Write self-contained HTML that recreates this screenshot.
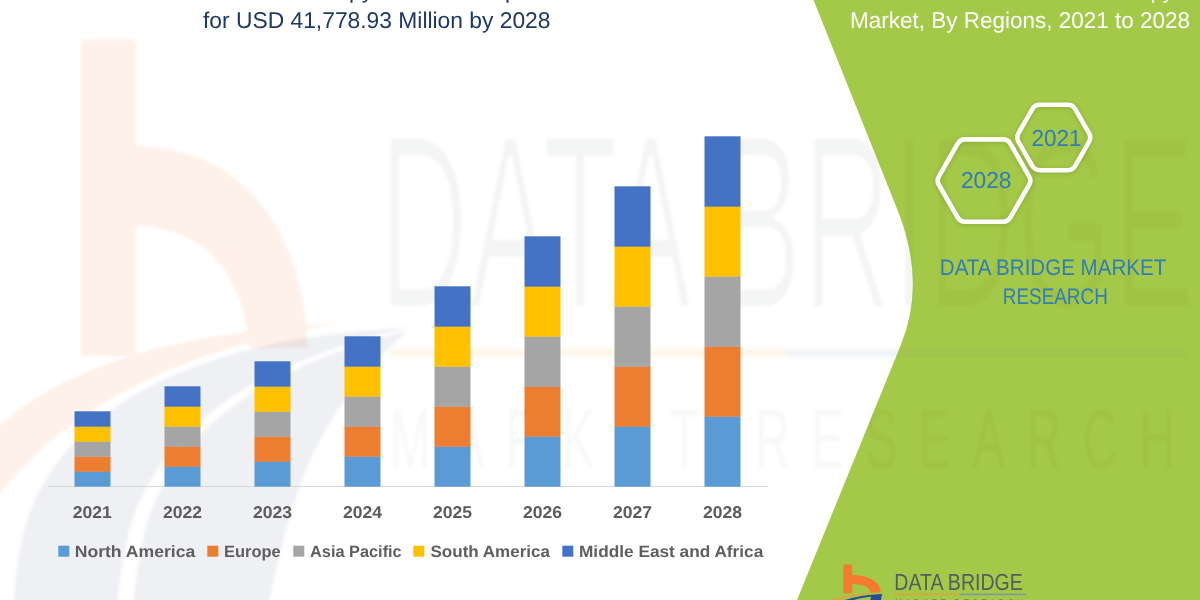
<!DOCTYPE html>
<html lang="en">
<head>
<meta charset="utf-8">
<title>Market, By Regions, 2021 to 2028</title>
<style>
  html, body { margin: 0; padding: 0; background: #ffffff; }
  body { width: 1200px; height: 600px; overflow: hidden; }
  svg { display: block; }
  text { font-family: "Liberation Sans", sans-serif; text-rendering: geometricPrecision; }
  .ax { font-weight: bold; font-size: 17.1px; fill: #5c5c5c; text-anchor: middle; }
  .lg { font-weight: bold; font-size: 16.4px; fill: #5e5e5e; }
  .ttl { font-size: 22.8px; fill: #1f3864; }
  .wt { font-size: 22.8px; fill: #ffffff; }
  .bl { font-size: 22.6px; fill: #2f7db8; }
  .hx { font-size: 23.2px; fill: #2f7db8; }
</style>
</head>
<body>
<svg width="1200" height="600" viewBox="0 0 1200 600">
  <defs>
    <filter id="wblur" x="-5%" y="-5%" width="110%" height="110%"><feGaussianBlur stdDeviation="1.6"/></filter>
    <filter id="hsh" x="-20%" y="-20%" width="140%" height="140%"><feGaussianBlur stdDeviation="2"/></filter>
    <!-- company logo pieces, drawn in watermark (large) coordinates; fills inherited from <use> -->
    <g id="lgB">
      <path d="M81,39.5 H136 V146 C232,148 302,215 308,348 H250 C241,264 198,228 136,226 V356 H81 Z"/>
      <path d="M-40,470 C20,380 150,332 338,324 C190,348 70,400 -5,500 Z"/>
    </g>
    <g id="lgBlue">
      <path d="M408,328 C250,334 90,380 35,500 C8,560 8,650 30,730 L112,730 C112,650 116,590 127,540 C140,480 185,420 260,380 C310,355 360,338 408,328 Z"/>
      <path d="M408,331 C360,342 315,358 268,384 C195,424 155,482 143,540 C132,590 128,650 128,730 L250,730 C258,640 280,540 302,480 C320,430 360,370 408,331 Z"/>
    </g>
    <g id="lgTxt">
      <text transform="translate(379,307) scale(6.08,10.56)" font-size="23.3" textLength="134.3" lengthAdjust="spacingAndGlyphs">DATA BRIDGE</text>
    </g>
    <g id="lgTxt2">
      <text transform="translate(390,468) scale(6.08,10.56)" font-size="8" textLength="129" lengthAdjust="spacing">MARKET RESEARCH</text>
    </g>
    <g id="lgLine">
      <rect x="390" y="349" width="396" height="8" fill="#e9a23b"/>
      <rect x="786" y="349" width="401" height="8" fill="#6f8fb0"/>
    </g>
    <filter id="thin" x="-2%" y="-2%" width="104%" height="104%"><feMorphology operator="erode" radius="1.8 0.9"/><feGaussianBlur stdDeviation="1.4"/></filter>
    <clipPath id="greenClip"><path d="M813.5,0 L897.5,210 Q926.4,282.2 900.8,345 L797,600 H1200 V0 Z"/></clipPath>
  </defs>

  <rect width="1200" height="600" fill="#ffffff"/>

  <!-- watermark on the white area -->
  <g id="wm">
    <g filter="url(#wblur)">
      <use href="#lgB" fill="#f47b30" opacity="0.105"/>
      <use href="#lgBlue" fill="#566b95" opacity="0.10"/>
      <use href="#lgLine" opacity="0.10"/>
    </g>
    <use href="#lgTxt" fill="#555b5e" opacity="0.062" filter="url(#thin)"/>
    <use href="#lgTxt2" fill="#555b5e" opacity="0.038" filter="url(#wblur)"/>
  </g>

  <!-- green panel -->
  <path d="M813.5,0 L897.5,210 Q926.4,282.2 900.8,345 L797,600 H1200 V0 Z" fill="#a4c848"/>

  <!-- fainter watermark showing through the green panel -->
  <g clip-path="url(#greenClip)" opacity="0.55">
    <use href="#lgLine" opacity="0.10" filter="url(#wblur)"/>
    <use href="#lgTxt" fill="#4a5a30" opacity="0.068" filter="url(#thin)"/>
    <use href="#lgTxt2" fill="#4a5a30" opacity="0.07" filter="url(#wblur)"/>
  </g>

  <!-- cropped title lines -->
  <text class="ttl" y="-2.3"><tspan x="349" text-anchor="end" textLength="278" lengthAdjust="spacingAndGlyphs">Global Cell and Gene Thera</tspan><tspan x="349" textLength="156" lengthAdjust="spacingAndGlyphs">py Market is Ex</tspan><tspan x="505" textLength="180" lengthAdjust="spacingAndGlyphs">pected to Account</tspan></text>
  <text class="ttl" x="203" y="28" textLength="347.5" lengthAdjust="spacingAndGlyphs">for USD 41,778.93 Million by 2028</text>

  <text class="wt" x="874" y="-2.3" textLength="300" lengthAdjust="spacingAndGlyphs">Global Cell and Gene Therapy</text>
  <text class="wt" x="850" y="28" textLength="340" lengthAdjust="spacingAndGlyphs">Market, By Regions, 2021 to 2028</text>

  <!-- chart -->
  <g shape-rendering="crispEdges">
    <rect x="48" y="486" width="720" height="1" fill="#d9d9d9"/>
  </g>
  <g id="bars">
    <rect x="74.5" y="471.3" width="36" height="15.4" fill="#5b9bd5"/>
    <rect x="74.5" y="456.3" width="36" height="15.4" fill="#ed7d31"/>
    <rect x="74.5" y="441.3" width="36" height="15.4" fill="#a5a5a5"/>
    <rect x="74.5" y="426.3" width="36" height="15.4" fill="#ffc000"/>
    <rect x="74.5" y="411.3" width="36" height="15.4" fill="#4472c4"/>
    <rect x="164.5" y="466.3" width="36" height="20.4" fill="#5b9bd5"/>
    <rect x="164.5" y="446.3" width="36" height="20.4" fill="#ed7d31"/>
    <rect x="164.5" y="426.3" width="36" height="20.4" fill="#a5a5a5"/>
    <rect x="164.5" y="406.3" width="36" height="20.4" fill="#ffc000"/>
    <rect x="164.5" y="386.3" width="36" height="20.4" fill="#4472c4"/>
    <rect x="254.5" y="461.3" width="36" height="25.4" fill="#5b9bd5"/>
    <rect x="254.5" y="436.3" width="36" height="25.4" fill="#ed7d31"/>
    <rect x="254.5" y="411.3" width="36" height="25.4" fill="#a5a5a5"/>
    <rect x="254.5" y="386.3" width="36" height="25.4" fill="#ffc000"/>
    <rect x="254.5" y="361.3" width="36" height="25.4" fill="#4472c4"/>
    <rect x="344.5" y="456.3" width="36" height="30.4" fill="#5b9bd5"/>
    <rect x="344.5" y="426.3" width="36" height="30.4" fill="#ed7d31"/>
    <rect x="344.5" y="396.3" width="36" height="30.4" fill="#a5a5a5"/>
    <rect x="344.5" y="366.3" width="36" height="30.4" fill="#ffc000"/>
    <rect x="344.5" y="336.3" width="36" height="30.4" fill="#4472c4"/>
    <rect x="434.5" y="446.3" width="36" height="40.4" fill="#5b9bd5"/>
    <rect x="434.5" y="406.3" width="36" height="40.4" fill="#ed7d31"/>
    <rect x="434.5" y="366.3" width="36" height="40.4" fill="#a5a5a5"/>
    <rect x="434.5" y="326.3" width="36" height="40.4" fill="#ffc000"/>
    <rect x="434.5" y="286.3" width="36" height="40.4" fill="#4472c4"/>
    <rect x="524.5" y="436.3" width="36" height="50.4" fill="#5b9bd5"/>
    <rect x="524.5" y="386.3" width="36" height="50.4" fill="#ed7d31"/>
    <rect x="524.5" y="336.3" width="36" height="50.4" fill="#a5a5a5"/>
    <rect x="524.5" y="286.3" width="36" height="50.4" fill="#ffc000"/>
    <rect x="524.5" y="236.3" width="36" height="50.4" fill="#4472c4"/>
    <rect x="614.5" y="426.3" width="36" height="60.4" fill="#5b9bd5"/>
    <rect x="614.5" y="366.3" width="36" height="60.4" fill="#ed7d31"/>
    <rect x="614.5" y="306.3" width="36" height="60.4" fill="#a5a5a5"/>
    <rect x="614.5" y="246.3" width="36" height="60.4" fill="#ffc000"/>
    <rect x="614.5" y="186.3" width="36" height="60.4" fill="#4472c4"/>
    <rect x="704.5" y="416.3" width="36" height="70.4" fill="#5b9bd5"/>
    <rect x="704.5" y="346.3" width="36" height="70.4" fill="#ed7d31"/>
    <rect x="704.5" y="276.3" width="36" height="70.4" fill="#a5a5a5"/>
    <rect x="704.5" y="206.3" width="36" height="70.4" fill="#ffc000"/>
    <rect x="704.5" y="136.3" width="36" height="70.4" fill="#4472c4"/>
  </g>

  <g class="ax">
    <text x="92.2" y="518.3" textLength="39" lengthAdjust="spacingAndGlyphs">2021</text>
    <text x="182.5" y="518.3" textLength="39" lengthAdjust="spacingAndGlyphs">2022</text>
    <text x="272.5" y="518.3" textLength="39" lengthAdjust="spacingAndGlyphs">2023</text>
    <text x="362.5" y="518.3" textLength="39" lengthAdjust="spacingAndGlyphs">2024</text>
    <text x="452.5" y="518.3" textLength="39" lengthAdjust="spacingAndGlyphs">2025</text>
    <text x="542.5" y="518.3" textLength="39" lengthAdjust="spacingAndGlyphs">2026</text>
    <text x="632.5" y="518.3" textLength="39" lengthAdjust="spacingAndGlyphs">2027</text>
    <text x="722.5" y="518.3" textLength="39" lengthAdjust="spacingAndGlyphs">2028</text>
  </g>

  <!-- legend -->
  <rect x="58.3" y="545.7" width="11" height="11" fill="#5b9bd5"/>
  <text class="lg" x="74.7" y="556.7" textLength="120.6" lengthAdjust="spacingAndGlyphs">North America</text>
  <rect x="207.3" y="545.7" width="11" height="11" fill="#ed7d31"/>
  <text class="lg" x="224" y="556.7" textLength="56.7" lengthAdjust="spacingAndGlyphs">Europe</text>
  <rect x="293.3" y="545.7" width="11" height="11" fill="#a5a5a5"/>
  <text class="lg" x="310" y="556.7" textLength="91.7" lengthAdjust="spacingAndGlyphs">Asia Pacific</text>
  <rect x="413.3" y="545.7" width="11" height="11" fill="#ffc000"/>
  <text class="lg" x="430.5" y="556.7" textLength="119.5" lengthAdjust="spacingAndGlyphs">South America</text>
  <rect x="562.3" y="545.7" width="11" height="11" fill="#4472c4"/>
  <text class="lg" x="579" y="556.7" textLength="184.3" lengthAdjust="spacingAndGlyphs">Middle East and Africa</text>

  <!-- hexagons -->
  <g fill="none" stroke-linejoin="round">
    <g stroke="#5f7f20" stroke-width="5" opacity="0.35" filter="url(#hsh)" transform="translate(0,1)">
      <path d="M1029.1,176.3 Q1031.6,180.6 1029.1,184.9 L1010.3,217.5 Q1007.8,221.8 1002.8,221.8 L965.2,221.8 Q960.2,221.8 957.7,217.5 L938.9,184.9 Q936.4,180.6 938.9,176.3 L957.7,143.7 Q960.2,139.4 965.2,139.4 L1002.8,139.4 Q1007.8,139.4 1010.3,143.7 Z"/>
      <path d="M1089.0,133.2 Q1091.5,137.5 1089.0,141.8 L1075.2,165.9 Q1072.7,170.2 1067.7,170.2 L1039.8,170.2 Q1034.8,170.2 1032.3,165.9 L1018.5,141.8 Q1016.0,137.5 1018.5,133.2 L1032.3,109.1 Q1034.8,104.8 1039.8,104.8 L1067.7,104.8 Q1072.7,104.8 1075.2,109.1 Z"/>
    </g>
    <g stroke="#ffffff" stroke-width="4.6">
      <path d="M1029.1,176.3 Q1031.6,180.6 1029.1,184.9 L1010.3,217.5 Q1007.8,221.8 1002.8,221.8 L965.2,221.8 Q960.2,221.8 957.7,217.5 L938.9,184.9 Q936.4,180.6 938.9,176.3 L957.7,143.7 Q960.2,139.4 965.2,139.4 L1002.8,139.4 Q1007.8,139.4 1010.3,143.7 Z"/>
      <path d="M1089.0,133.2 Q1091.5,137.5 1089.0,141.8 L1075.2,165.9 Q1072.7,170.2 1067.7,170.2 L1039.8,170.2 Q1034.8,170.2 1032.3,165.9 L1018.5,141.8 Q1016.0,137.5 1018.5,133.2 L1032.3,109.1 Q1034.8,104.8 1039.8,104.8 L1067.7,104.8 Q1072.7,104.8 1075.2,109.1 Z"/>
    </g>
  </g>
  <text class="hx" x="961" y="188.2" textLength="50.5" lengthAdjust="spacingAndGlyphs">2028</text>
  <text class="hx" x="1031.5" y="145.7" textLength="50" lengthAdjust="spacingAndGlyphs">2021</text>

  <text class="bl" x="939.8" y="275.3" textLength="226.4" lengthAdjust="spacingAndGlyphs">DATA BRIDGE MARKET</text>
  <text class="bl" x="1002.8" y="304.4" textLength="105" lengthAdjust="spacingAndGlyphs">RESEARCH</text>

  <!-- small logo bottom right -->
  <g>
    <path fill="#2a4b9a" d="M843,600.6 Q860,594.6 882,593.9 L882,596 Q862,596.6 852.5,600.6 Z"/>
    <path fill="#2a4b9a" d="M871.6,595.2 L881.6,594.6 L881,600.6 L870.2,600.6 Z"/>
    <path fill="#f47b30" d="M843.3,564.4 H852.2 V575 C869,575.2 880.6,581.5 880.8,592.6 H870.6 C870.2,587.2 863,584.2 852.2,584 V593.2 H843.3 Z"/>
    <path fill="#ee9a34" d="M830.5,600.5 Q852,592.6 885,592.6 Q853,594.4 836,600.5 Z"/>
    <text x="894.3" y="590.4" font-size="23.3" textLength="128.5" lengthAdjust="spacingAndGlyphs" fill="#555b5e">DATA BRIDGE</text>
    <rect x="894" y="593.6" width="65.5" height="1.6" fill="#d9a441"/>
    <rect x="959.5" y="593.6" width="67" height="1.6" fill="#7d9aa0"/>
    <text x="895" y="605.1" font-size="8" textLength="128" lengthAdjust="spacing" fill="#555b5e">MARKET RESEARCH</text>
  </g>
</svg>
</body>
</html>
